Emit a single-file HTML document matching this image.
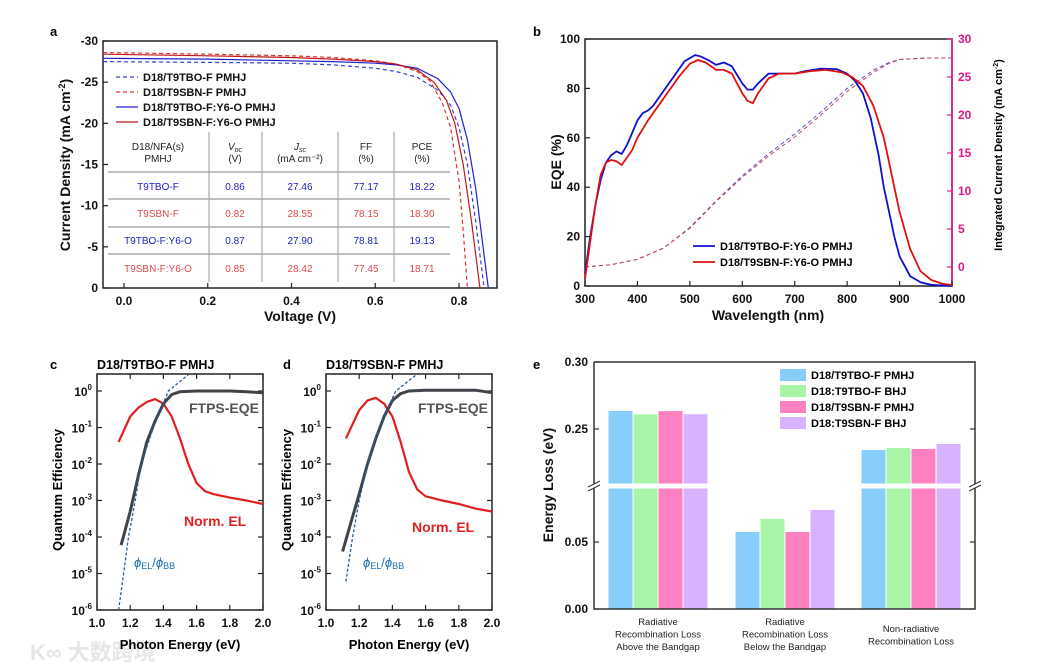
<!DOCTYPE html>
<html><head><meta charset="utf-8"><style>
html,body{margin:0;padding:0;background:#fff;}
svg{display:block;font-family:"Liberation Sans",Arial,sans-serif;}
.tk{font-size:12px;font-weight:bold;fill:#111;}
.ti{font-size:14px;font-weight:bold;fill:#111;}
.tb{font-size:10px;}
</style></head><body>
<svg id="fig" width="1059" height="668" viewBox="0 0 1059 668" xmlns="http://www.w3.org/2000/svg">
<text x="50" y="36" font-size="13" font-weight="bold">a</text>
<text x="533" y="36" font-size="13" font-weight="bold">b</text>
<text x="50" y="369" font-size="13" font-weight="bold">c</text>
<text x="283" y="369" font-size="13" font-weight="bold">d</text>
<text x="533" y="369" font-size="13" font-weight="bold">e</text>
<text x="30" y="660" font-size="22" font-weight="bold" fill="#e6e6e6" font-family="'Liberation Sans','Noto Sans CJK SC',sans-serif">K∞ 大数跨境</text>
</svg>
<script>
// ---------- DATA ----------
// panel a: J-V
const jvNames=['D18/T9TBO-F PMHJ','D18/T9SBN-F PMHJ','D18/T9TBO-F:Y6-O PMHJ','D18/T9SBN-F:Y6-O PMHJ'];
const jvV1=[-0.05,0.2,0.4,0.5,0.6,0.65,0.7,0.75,0.78,0.8,0.82,0.84,0.86];
const jvJ1=[-27.5,-27.4,-27.3,-27.1,-26.7,-26.3,-25.6,-24.0,-22.2,-19.5,-15,-8,0];
const jvV2=[-0.05,0.2,0.4,0.5,0.6,0.65,0.7,0.73,0.76,0.78,0.8,0.81,0.82];
const jvJ2=[-28.6,-28.4,-28.2,-28.0,-27.6,-27.2,-26.3,-25.2,-22.5,-19.5,-13,-7,0];
const jvV3=[-0.05,0.2,0.4,0.5,0.6,0.65,0.7,0.75,0.78,0.8,0.82,0.84,0.86,0.87];
const jvJ3=[-27.9,-27.8,-27.6,-27.5,-27.3,-27.1,-26.7,-25.4,-23.8,-21.8,-18,-12,-4,0];
const jvV4=[-0.05,0.2,0.4,0.5,0.6,0.65,0.7,0.74,0.77,0.79,0.81,0.83,0.85];
const jvJ4=[-28.4,-28.2,-28.0,-27.8,-27.5,-27.2,-26.5,-25.0,-22.8,-20,-15,-8,0];
const aYTicks=[-30,-25,-20,-15,-10,-5,0];
const aXTicks=[0,0.2,0.4,0.6,0.8];
const tblHead1=['D18/NFA(s)','Voc','Jsc','FF','PCE'];
const tblHead2=['PMHJ','(V)','(mA cm⁻²)','(%)','(%)'];
const tblRows=[['T9TBO-F','0.86','27.46','77.17','18.22'],['T9SBN-F','0.82','28.55','78.15','18.30'],['T9TBO-F:Y6-O','0.87','27.90','78.81','19.13'],['T9SBN-F:Y6-O','0.85','28.42','77.45','18.71']];
// panel b: EQE
const eqeWlB=[300,310,320,330,340,350,360,370,380,390,400,410,420,430,450,470,490,510,520,535,550,565,580,600,610,620,630,650,700,720,750,780,800,815,830,845,860,870,880,890,900,920,940,960,1000];
const eqeB=[5,20,33,43,50,53,54.5,53.5,57,62,67,70,71,73,79,85,91,93.5,93,91.5,89.5,90.5,89,82,79.5,79.5,82,86,86,87,88,87.8,86,83,78,68,53,40,30,20,12,4,1.5,0.5,0];
const eqeWlR=[300,310,320,330,340,350,360,370,380,390,400,420,440,460,480,500,515,530,550,565,580,600,610,620,630,650,670,700,730,760,790,810,830,850,870,880,890,900,920,940,960,980,1000];
const eqeR=[3,18,33,45,50,51,50.5,49,52,55,60,67,73,79,85,90,91.5,90.5,87.5,87.5,86,78,75,74,78,84,86,86,87,87.5,86.5,84.5,81,73,60,50,40,30,15,6,2.5,1,0.3];
const intWl=[300,350,400,450,500,550,600,650,700,750,800,850,880,900,950,1000];
const intB=[0,0.3,1.0,2.5,5.2,8.7,12.0,14.9,17.5,20.4,23.5,25.9,26.9,27.3,27.5,27.5];
const intR=[0,0.3,1.0,2.5,5.1,8.6,11.8,14.6,17.1,20.0,23.1,25.6,26.8,27.3,27.5,27.5];
const bXTicks=[300,400,500,600,700,800,900,1000];
const bYTicks=[0,20,40,60,80,100];
const bRTicks=[0,5,10,15,20,25,30];
// panel c
const cEqeE=[1.145,1.2,1.25,1.3,1.35,1.4,1.45,1.5,1.6,1.8,1.9,2.0];
const cEqe=[6e-5,5e-4,5e-3,4e-2,0.15,0.45,0.8,0.95,1.0,1.0,0.95,0.9];
const cElE=[1.13,1.2,1.25,1.3,1.35,1.4,1.45,1.5,1.55,1.6,1.65,1.7,1.8,1.9,2.0];
const cEl=[0.04,0.2,0.35,0.5,0.6,0.45,0.2,0.05,0.01,3e-3,1.8e-3,1.5e-3,1.2e-3,1e-3,8e-4];
const cPhE=[1.13,1.16,1.19,1.23,1.265,1.34,1.43,1.55];
const cPh=[1e-6,1e-5,1e-4,1e-3,1e-2,0.1,1,2.8];
// panel d
const dEqeE=[1.1,1.15,1.2,1.25,1.3,1.35,1.4,1.45,1.5,1.6,1.9,2.0];
const dEqe=[4e-5,2.5e-4,1.5e-3,1e-2,5e-2,0.2,0.55,0.85,1.0,1.05,1.05,0.9];
const dElE=[1.12,1.2,1.25,1.3,1.35,1.4,1.45,1.5,1.55,1.6,1.7,1.8,1.9,2.0];
const dEl=[0.05,0.3,0.55,0.65,0.45,0.2,0.04,6e-3,2e-3,1.3e-3,1e-3,8e-4,6e-4,5e-4];
const dPhE=[1.12,1.16,1.2,1.25,1.32,1.42,1.55];
const dPh=[6e-6,1e-4,1e-3,1e-2,0.1,1,3];
const logExps=[0,-1,-2,-3,-4,-5,-6];
const qeXTicks=[1.0,1.2,1.4,1.6,1.8,2.0];
// panel e
const eCats=[['Radiative','Recombination Loss','Above the Bandgap'],['Radiative','Recombination Loss','Below the Bandgap'],['Non-radiative','Recombination Loss']];
const eSeries=['D18/T9TBO-F PMHJ','D18:T9TBO-F BHJ','D18/T9SBN-F PMHJ','D18:T9SBN-F BHJ'];
const eVals1=[0.2634,0.0575,0.2343];
const eVals2=[0.2610,0.0672,0.2358];
const eVals3=[0.2634,0.0575,0.2351];
const eVals4=[0.2610,0.0739,0.2388];
const eYTicks=[0,0.05,0.25,0.30];

// ---------- HELPERS ----------
const NS='http://www.w3.org/2000/svg';
const svg=document.getElementById('fig');
function mk(tag,attrs,parent){const e=document.createElementNS(NS,tag);for(const k in attrs)e.setAttribute(k,attrs[k]);(parent||svg).appendChild(e);return e;}
function pts(xs,ys,fx,fy){return xs.map((x,i)=>fx(x).toFixed(1)+','+fy(ys[i]).toFixed(1)).join(' ');}
function grp(){return mk('g',{});}

// ---------- PANEL A ----------
const xa=v=>124+v*418.75, ya=j=>41+(j+30)/30*247;
let g=grp();


let el=mk('rect',{x:103,y:41,width:394,height:247,fill:'none',stroke:'#222','stroke-width':1.5},g);


aYTicks.forEach(t=>{
  const y=ya(t);
  let l=mk('line',{x1:103,x2:108,y1:y,y2:y,stroke:'#222','stroke-width':1.2},g);
  
  
  let tx=mk('text',{x:98,y:y+4,'text-anchor':'end',class:'tk'},g);tx.textContent=t;
  
  
});
aXTicks.forEach(t=>{
  const x=xa(t);
  let l=mk('line',{x1:x,x2:x,y1:288,y2:283,stroke:'#222','stroke-width':1.2},g);
  
  
  let tx=mk('text',{x:x,y:305,'text-anchor':'middle',class:'tk'},g);tx.textContent=t.toFixed(1);
  
  
});
el=mk('text',{x:300,y:321,'text-anchor':'middle',class:'ti'},g);el.textContent='Voltage (V)';


el=mk('text',{x:0,y:0,'text-anchor':'middle',class:'ti',transform:'translate(70,165) rotate(-90)'},g);
el.innerHTML='Current Density  (mA cm<tspan font-size="9" dy="-5">-2</tspan><tspan dy="5">)</tspan>';


// table
const colX=[158,235,300,366,422], sepX=[209,262,338,394], rowLine=[172,199,227,254], rowY=[190,217,244,272];
sepX.forEach(x=>{let l=mk('line',{x1:x,x2:x,y1:132,y2:282,stroke:'#999','stroke-width':1},g);
  
  });
rowLine.forEach(y=>{let l=mk('line',{x1:108,x2:450,y1:y,y2:y,stroke:'#aaa','stroke-width':1.5},g);
  
  });
tblHead1.forEach((h,i)=>{let t=mk('text',{x:colX[i],y:150,'text-anchor':'middle',class:'tb',fill:'#222'},g);
  if(i==1)t.innerHTML='<tspan font-style="italic">V</tspan><tspan font-size="7" dy="2" font-style="italic">oc</tspan>';
  else if(i==2)t.innerHTML='<tspan font-style="italic">J</tspan><tspan font-size="7" dy="2" font-style="italic">sc</tspan>';
  else t.textContent=h;
  
  });
tblHead2.forEach((h,i)=>{let t=mk('text',{x:colX[i],y:162,'text-anchor':'middle',class:'tb',fill:'#222'},g);t.textContent=h;
  
  });
tblRows.forEach((r,ri)=>r.forEach((c,ci)=>{let t=mk('text',{x:colX[ci],y:rowY[ri],'text-anchor':'middle',class:'tb',fill:ri%2?'#e04848':'#2020c0'},g);t.textContent=c;
  
  }));
// curves
const jvData=[[jvV1,jvJ1,'#3040e0','4,3'],[jvV2,jvJ2,'#e03030','4,3'],[jvV3,jvJ3,'#2020d0',''],[jvV4,jvJ4,'#c01818','']];
jvData.forEach((d,i)=>{
  let p=mk('polyline',{points:pts(d[0],d[1],xa,ya),fill:'none',stroke:d[2],'stroke-width':1.2,'stroke-dasharray':d[3]},g);
  
  
  const y=77+i*15;
  let l=mk('line',{x1:116,x2:138,y1:y,y2:y,stroke:d[2],'stroke-width':1.2,'stroke-dasharray':d[3]},g);
  
  
  let t=mk('text',{x:143,y:y+4,'font-size':11,'font-weight':'bold',fill:'#111'},g);t.textContent=jvNames[i];
  
  
});

// ---------- PANEL B ----------
const xb=w=>585+(w-300)/700*367, yb=e=>286-e/100*247, yr=c=>267-c*7.6;
g=grp();


el=mk('rect',{x:585,y:39,width:367,height:247,fill:'none',stroke:'#222','stroke-width':1.5},g);


bYTicks.forEach(t=>{const y=yb(t);
  let l=mk('line',{x1:585,x2:590,y1:y,y2:y,stroke:'#222','stroke-width':1.2},g);
  
  
  let tx=mk('text',{x:580,y:y+4,'text-anchor':'end',class:'tk'},g);tx.textContent=t;
  
  });
bRTicks.forEach(t=>{const y=yr(t);
  let l=mk('line',{x1:947,x2:952,y1:y,y2:y,stroke:'#e0168a','stroke-width':1.2},g);
  
  
  let tx=mk('text',{x:958,y:y+4,class:'tk',fill:'#e0168a',style:'fill:#e0168a'},g);tx.textContent=t;
  
  });
el=mk('line',{x1:952,x2:952,y1:39,y2:286,stroke:'#e0168a','stroke-width':1.5},g);


bXTicks.forEach(t=>{const x=xb(t);
  let l=mk('line',{x1:x,x2:x,y1:286,y2:281,stroke:'#222','stroke-width':1.2},g);
  
  
  let tx=mk('text',{x:x,y:303,'text-anchor':'middle',class:'tk'},g);tx.textContent=t;
  
  });
el=mk('text',{x:768,y:320,'text-anchor':'middle',class:'ti'},g);el.textContent='Wavelength (nm)';


el=mk('text',{x:0,y:0,'text-anchor':'middle',class:'ti',transform:'translate(561,162) rotate(-90)'},g);el.textContent='EQE (%)';


el=mk('text',{x:0,y:0,'text-anchor':'middle','font-size':11,'font-weight':'bold',transform:'translate(1002,155) rotate(-90)'},g);
el.innerHTML='Integrated Current Density  (mA cm<tspan font-size="7" dy="-4">-2</tspan><tspan dy="4">)</tspan>';


el=mk('polyline',{points:pts(intWl,intB,xb,yr),fill:'none',stroke:'#5050c0','stroke-width':1,'stroke-dasharray':'4,3'},g);


el=mk('polyline',{points:pts(intWl,intR,xb,yr),fill:'none',stroke:'#c04060','stroke-width':1,'stroke-dasharray':'4,3'},g);


el=mk('polyline',{points:pts(eqeWlB,eqeB,xb,yb),fill:'none',stroke:'#1010d0','stroke-width':1.8},g);


el=mk('polyline',{points:pts(eqeWlR,eqeR,xb,yb),fill:'none',stroke:'#e01010','stroke-width':1.8},g);


[['D18/T9TBO-F:Y6-O PMHJ','#1010d0'],['D18/T9SBN-F:Y6-O PMHJ','#e01010']].forEach((d,i)=>{const y=246+i*16;
  let l=mk('line',{x1:693,x2:715,y1:y,y2:y,stroke:d[1],'stroke-width':1.8},g);
  
  
  let t=mk('text',{x:720,y:y+4,'font-size':11,'font-weight':'bold'},g);t.textContent=d[0];
  
  });

// ---------- PANELS C/D ----------
const yq=q=>Math.max(374,391-Math.log10(q)*36.5);
function qePanel(x0,title,eE,eV,lE,lV,pE,pV,elLabelX,elLabelY,key){
  const xs=E=>x0+(E-1)*166;
  const g=grp();
  
  
  let e=mk('rect',{x:x0,y:374,width:166,height:236,fill:'none',stroke:'#222','stroke-width':1.5},g);
  
  
  e=mk('text',{x:x0,y:369,'font-size':12.5,'font-weight':'bold'},g);e.textContent=title;
  
  
  logExps.forEach(p=>{const y=391-p*36.5;
    let l=mk('line',{x1:x0,x2:x0+5,y1:y,y2:y,stroke:'#222','stroke-width':1.2},g);
    
    
    let l2=mk('line',{x1:x0+166,x2:x0+161,y1:y,y2:y,stroke:'#222','stroke-width':1.2},g);
    
    
    let t=mk('text',{x:x0-5,y:y+5,'text-anchor':'end',class:'tk'},g);
    t.innerHTML='10<tspan font-size="8" dy="-6">'+p+'</tspan>';
    
    });
  qeXTicks.forEach(v=>{const x=xs(v);
    let l=mk('line',{x1:x,x2:x,y1:610,y2:605,stroke:'#222','stroke-width':1.2},g);
    
    
    let l2=mk('line',{x1:x,x2:x,y1:374,y2:379,stroke:'#222','stroke-width':1.2},g);
    
    
    let t=mk('text',{x:x,y:627,'text-anchor':'middle',class:'tk'},g);t.textContent=v.toFixed(1);
    
    });
  e=mk('text',{x:x0+83,y:649,'text-anchor':'middle','font-size':13,'font-weight':'bold'},g);e.textContent='Photon Energy (eV)';
  
  
  e=mk('text',{x:0,y:0,'text-anchor':'middle','font-size':13,'font-weight':'bold',transform:'translate('+(x0-35)+',490) rotate(-90)'},g);e.textContent='Quantum Efficiency';
  
  
  e=mk('polyline',{points:pts(lE,lV,xs,yq),fill:'none',stroke:'#e02020','stroke-width':2.2},g);
  
  
  e=mk('polyline',{points:pts(eE,eV,xs,yq),fill:'none',stroke:'#404448','stroke-width':3},g);
  
  
  e=mk('polyline',{points:pts(pE,pV,xs,yq),fill:'none',stroke:'#2a5a9a','stroke-width':1.3,'stroke-dasharray':'3,2'},g);
  
  
  e=mk('text',{x:x0+162,y:413,'text-anchor':'end','font-size':14,'font-weight':'bold',fill:'#555'},g);e.textContent='FTPS-EQE';
  
  
  e=mk('text',{x:elLabelX,y:elLabelY,'font-size':14,'font-weight':'bold',fill:'#e02020'},g);e.textContent='Norm. EL';
  
  
  e=mk('text',{x:x0+37,y:567,'font-size':13,fill:'#1a70b0'},g);
  e.innerHTML='<tspan font-style="italic">ϕ</tspan><tspan font-size="9" dy="2">EL</tspan><tspan dy="-2">/</tspan><tspan font-style="italic">ϕ</tspan><tspan font-size="9" dy="2">BB</tspan>';
  
  
}
qePanel(97,'D18/T9TBO-F PMHJ',cEqeE,cEqe,cElE,cEl,cPhE,cPh,184,526,'c');
qePanel(326,'D18/T9SBN-F PMHJ',dEqeE,dEqe,dElE,dEl,dPhE,dPh,412,532,'d');

// ---------- PANEL E ----------
const ye=v=>v<=0.09?609-v/0.05*67:362+(0.30-v)/0.05*67;
const eColors=['#87cefa','#a8f5a8','#ff80c0','#d8b2ff'];
const eVals=[eVals1,eVals2,eVals3,eVals4];
const groupX=[608,735,861], barW=25;
g=grp();


eVals.forEach((vals,s)=>vals.forEach((v,c)=>{
  const x=groupX[c]+s*barW+0.5, y=ye(v);
  let r=mk('rect',{x:x,y:y,width:barW-1,height:609-y,fill:eColors[s]},g);
  
  
}));
el=mk('rect',{x:594,y:483.5,width:382,height:5,fill:'#fff'},g);


el=mk('path',{d:'M594,362 L594,484 M594,488 L594,609 L975,609 L975,488 M975,484 L975,362 L594,362',fill:'none',stroke:'#333','stroke-width':1.5},g);


el=mk('path',{d:'M588,487 L600,481 M588,491 L600,485 M969,487 L981,481 M969,491 L981,485',stroke:'#333','stroke-width':1},g);


eYTicks.forEach(t=>{const y=ye(t);
  let l=mk('line',{x1:594,x2:599,y1:y,y2:y,stroke:'#333','stroke-width':1.2},g);
  
  
  let l2=mk('line',{x1:975,x2:970,y1:y,y2:y,stroke:'#333','stroke-width':1.2},g);
  
  
  let tx=mk('text',{x:588,y:y+4,'text-anchor':'end',class:'tk'},g);tx.textContent=t.toFixed(2);
  
  });
el=mk('text',{x:0,y:0,'text-anchor':'middle',class:'ti',transform:'translate(553,485) rotate(-90)'},g);el.textContent='Energy Loss (eV)';


eCats.forEach((lines,c)=>{const cx=groupX[c]+2*barW;
  const y0=lines.length==3?625:632;
  lines.forEach((ln,k)=>{let t=mk('text',{x:cx,y:y0+k*12.5,'text-anchor':'middle','font-size':9.5,fill:'#222'},g);t.textContent=ln;
    
    });});
eSeries.forEach((s,i)=>{const y=375+i*16;
  let r=mk('rect',{x:780,y:y-6,width:26,height:12,fill:eColors[i]},g);
  
  
  let t=mk('text',{x:811,y:y+4,'font-size':11,'font-weight':'bold'},g);t.textContent=s;
  
  });
</script>
</body></html>
